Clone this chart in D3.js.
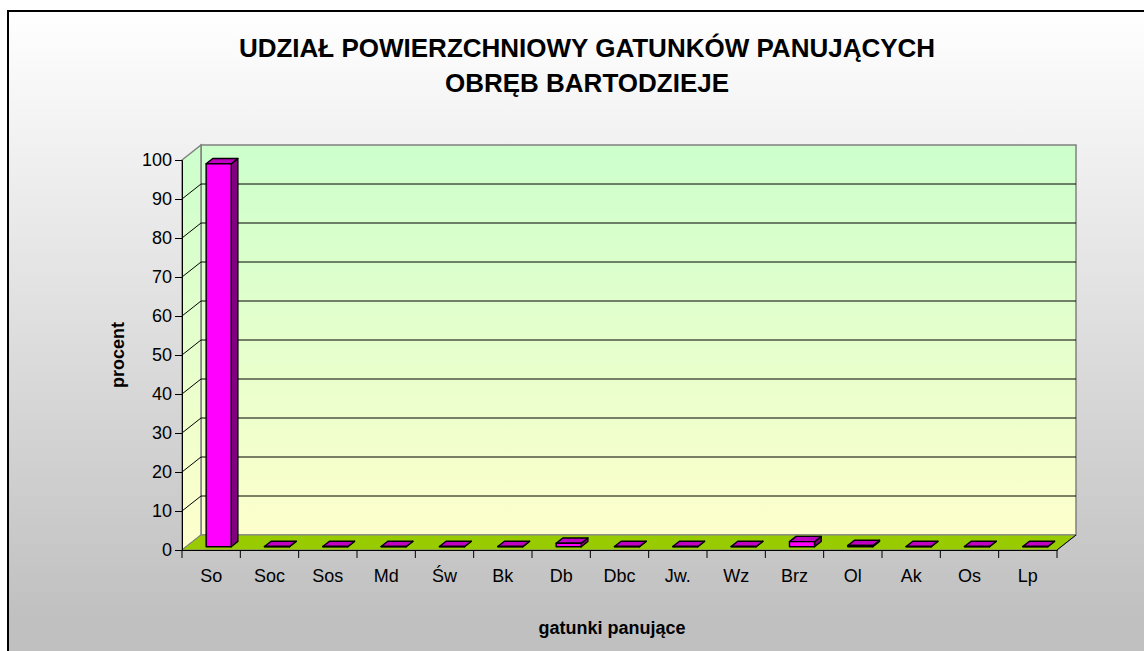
<!DOCTYPE html>
<html>
<head>
<meta charset="utf-8">
<script src="https://cdn.jsdelivr.net/npm/d3@7"></script>
<style>
  body { margin: 0; background: #ffffff; }
  svg { display: block; }
</style>
</head>
<body>
<div id="chart"></div>
<script>
// Chart data
var categories = ["So", "Soc", "Sos", "Md", "Św", "Bk", "Db", "Dbc", "Jw.", "Wz", "Brz", "Ol", "Ak", "Os", "Lp"];
var percents = [98.2, 0.05, 0.05, 0.05, 0.05, 0.05, 0.9, 0.05, 0.05, 0.05, 1.3, 0.3, 0.05, 0.05, 0.05];
var yTicks = [0, 10, 20, 30, 40, 50, 60, 70, 80, 90, 100];
var titleLines = ["UDZIAŁ POWIERZCHNIOWY GATUNKÓW PANUJĄCYCH", "OBRĘB BARTODZIEJE"];

var width = 1144, height = 651;
var font = "'Liberation Sans', Arial, sans-serif";

// Front plane of the 3D box and its depth vector
var plot = { left: 182, right: 1057, top: 160, bottom: 550 };
var depth = { dx: 19, dy: 15 };
var barDepth = { t0: 0.22, t1: 0.57 };

var svg = d3.select("#chart")
    .append("svg")
        .attr("width", width)
        .attr("height", height);

var defs = svg.append("defs");

var bg = defs.append("linearGradient")
    .attr("id", "bg")
    .attr("gradientUnits", "userSpaceOnUse")
    .attr("x1", 0).attr("y1", 10).attr("x2", 0).attr("y2", 620);
bg.append("stop").attr("offset", 0).attr("stop-color", "#ffffff");
bg.append("stop").attr("offset", 1).attr("stop-color", "#c0c0c0");

var wall = defs.append("linearGradient")
    .attr("id", "wall")
    .attr("gradientUnits", "userSpaceOnUse")
    .attr("x1", 0).attr("y1", plot.top - depth.dy).attr("x2", 0).attr("y2", plot.bottom);
wall.append("stop").attr("offset", 0).attr("stop-color", "#ccffcc");
wall.append("stop").attr("offset", 1).attr("stop-color", "#ffffcc");

// Chart area with border
svg.append("rect")
    .attr("x", 8).attr("y", 11)
    .attr("width", width + 20).attr("height", height + 20)
    .attr("fill", "url(#bg)")
    .attr("stroke", "#000000")
    .attr("stroke-width", 2);

var x = d3.scaleBand()
    .domain(categories)
    .range([plot.left, plot.right]);

var y = d3.scaleLinear()
    .domain([0, 100])
    .range([plot.bottom, plot.top]);

function shift(p, t) {
    // Move a front-plane point back by fraction t of the depth
    return [p[0] + t * depth.dx, p[1] - t * depth.dy];
}

function poly(points) {
    return points.map(function (p) { return p.join(","); }).join(" ");
}

// Back wall
svg.append("rect")
    .attr("x", plot.left + depth.dx)
    .attr("y", y(100) - depth.dy)
    .attr("width", plot.right - plot.left)
    .attr("height", y(0) - y(100))
    .attr("fill", "url(#wall)")
    .attr("stroke", "#808080")
    .attr("stroke-width", 1.5);

// Side wall
svg.append("polygon")
    .attr("points", poly([[plot.left, y(100)], shift([plot.left, y(100)], 1),
                          shift([plot.left, y(0)], 1), [plot.left, y(0)]]))
    .attr("fill", "url(#wall)")
    .attr("stroke", "#808080")
    .attr("stroke-width", 1.5);

// Gridlines on side and back wall
var grid = svg.append("g");
yTicks.filter(function (v) { return v > 0 && v < 100; }).forEach(function (v) {
    var a = [plot.left, y(v)], b = shift(a, 1);
    grid.append("polyline")
        .attr("points", poly([a, b, [plot.right + depth.dx, b[1]]]))
        .attr("fill", "none")
        .attr("stroke", "#000000")
        .attr("stroke-width", 1);
});

// Floor
svg.append("polygon")
    .attr("points", poly([[plot.left, y(0)], [plot.right, y(0)],
                          shift([plot.right, y(0)], 1), shift([plot.left, y(0)], 1)]))
    .attr("fill", "#99cc00")
    .attr("stroke", "#808080")
    .attr("stroke-width", 1);
svg.append("line")
    .attr("x1", plot.right).attr("y1", y(0))
    .attr("x2", plot.right + depth.dx).attr("y2", y(0) - depth.dy)
    .attr("stroke", "#000000");

// Bars
var barW = x.bandwidth() * 0.43;
var midT = (barDepth.t0 + barDepth.t1) / 2;
var bars = svg.append("g");
categories.forEach(function (c, i) {
    var x0 = x(c) + x.bandwidth() / 2 - barW / 2 + (midT - barDepth.t0) * depth.dx;
    var x1 = x0 + barW;
    var td = barDepth.t1 - barDepth.t0;
    var fl = shift([x0, y(0)], barDepth.t0), fr = shift([x1, y(0)], barDepth.t0);
    var tl = shift([x0, y(percents[i])], barDepth.t0), tr = shift([x1, y(percents[i])], barDepth.t0);
    var btr = shift(tr, td), btl = shift(tl, td), bbr = shift(fr, td);
    bars.append("polygon")
        .attr("points", poly([fr, tr, btr, bbr]))
        .attr("fill", "#800080").attr("stroke", "#000000").attr("stroke-width", 1.4)
        .attr("stroke-linejoin", "round");
    bars.append("polygon")
        .attr("points", poly([tl, tr, btr, btl]))
        .attr("fill", "#c000c0").attr("stroke", "#000000").attr("stroke-width", 1.4)
        .attr("stroke-linejoin", "round");
    bars.append("polygon")
        .attr("points", poly([fl, fr, tr, tl]))
        .attr("fill", "#ff00ff").attr("stroke", "#000000").attr("stroke-width", 1.4)
        .attr("stroke-linejoin", "round");
});

// Value axis
svg.append("g")
    .attr("transform", "translate(" + plot.left + ",0)")
    .call(d3.axisLeft(y).tickValues(yTicks).tickSize(7).tickPadding(3))
    .call(function (g) {
        g.select(".domain").attr("stroke", "#000000");
        g.selectAll("text").attr("font-family", font).style("font-size", "18px").attr("fill", "#000000");
    });

// Category axis
svg.append("g")
    .attr("transform", "translate(0," + plot.bottom + ")")
    .call(d3.axisBottom(x).tickSize(0).tickPadding(19))
    .call(function (g) {
        g.select(".domain").attr("stroke", "#000000");
        g.selectAll("text").attr("font-family", font).style("font-size", "18px").attr("fill", "#000000");
    });
svg.append("g")
    .selectAll("line")
    .data(categories.concat([null]))
    .enter()
    .append("line")
    .attr("x1", function (d, i) { return plot.left + i * x.step(); })
    .attr("x2", function (d, i) { return plot.left + i * x.step(); })
    .attr("y1", plot.bottom)
    .attr("y2", plot.bottom + 8)
    .attr("stroke", "#000000");

// Title
svg.append("text")
    .attr("font-family", font)
    .style("font-size", "26px")
    .style("font-weight", "bold")
    .attr("text-anchor", "middle")
    .selectAll("tspan")
    .data(titleLines)
    .enter()
    .append("tspan")
    .attr("x", 587)
    .attr("y", function (d, i) { return 57 + i * 35; })
    .text(function (d) { return d; });

// Axis titles
svg.append("text")
    .attr("font-family", font)
    .style("font-size", "18px")
    .style("font-weight", "bold")
    .attr("text-anchor", "middle")
    .attr("transform", "translate(124," + ((plot.top + plot.bottom) / 2) + ") rotate(-90)")
    .text("procent");

svg.append("text")
    .attr("font-family", font)
    .style("font-size", "18px")
    .style("font-weight", "bold")
    .attr("text-anchor", "middle")
    .attr("x", 612)
    .attr("y", 634)
    .text("gatunki panujące");
</script>
</body>
</html>
